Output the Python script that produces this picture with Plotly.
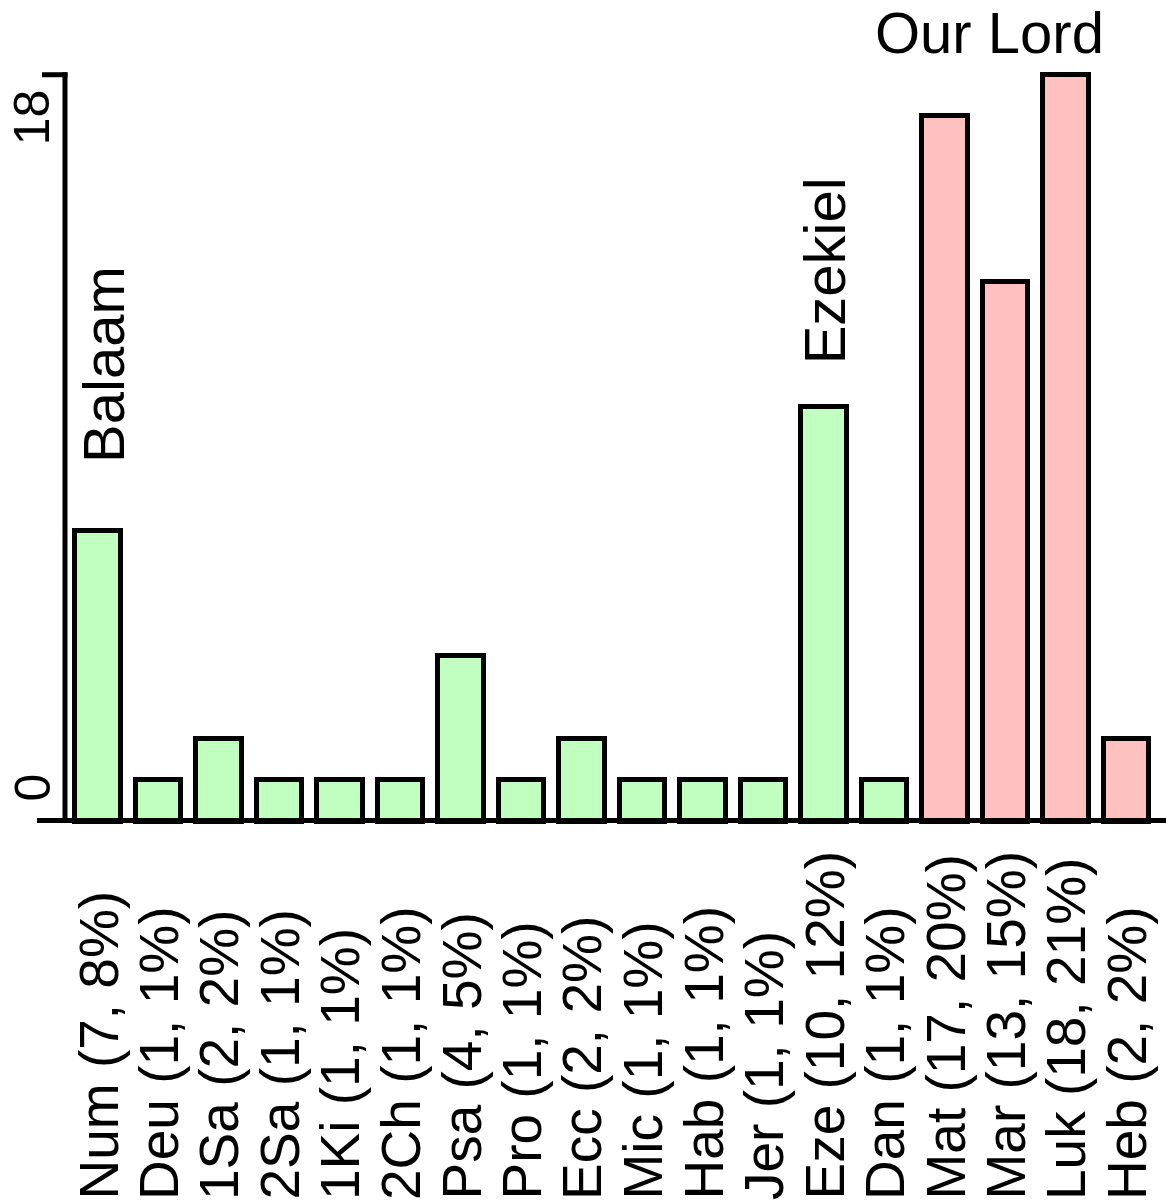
import plotly.graph_objects as go

# ---- data ----
books = ["Num", "Deu", "1Sa", "2Sa", "1Ki", "2Ch", "Psa", "Pro", "Ecc",
         "Mic", "Hab", "Jer", "Eze", "Dan", "Mat", "Mar", "Luk", "Heb"]
counts = [7, 1, 2, 1, 1, 1, 4, 1, 2, 1, 1, 1, 10, 1, 17, 13, 18, 2]
percents = [8, 1, 2, 1, 1, 1, 5, 1, 2, 1, 1, 1, 12, 1, 20, 15, 21, 2]
testament = ["OT"] * 14 + ["NT"] * 4
y_tick_vals = [0, 18]
y_tick_text = ["0", "18"]
callouts = [("Balaam", 0, 7), ("Ezekiel", 12, 10)]
top_label = "Our Lord"

labels = [f"{b} ({c}, {p}%)" for b, c, p in zip(books, counts, percents)]
colors = {"OT": "#C0FFC0", "NT": "#FFC0C0"}
xs = list(range(len(books)))

FONT = "Liberation Sans, Arial, sans-serif"
W, H = 1166, 1204
MB = 370
kx = 60.5      # px per category
ky = 41.515    # px per unit
x0px = 98      # pixel of first category
zero_px = 822  # pixel of value 0
xmin = -x0px / kx
xmax = xmin + W / kx
ymax = zero_px / ky
ymin = ymax - (H - MB) / ky

def px2x(p):
    return (p - x0px) / kx

fig = go.Figure()
fig.add_trace(go.Bar(
    x=xs, y=counts, width=0.744,
    marker=dict(color=[colors[t] for t in testament],
                line=dict(color="black", width=5)),
    hoverinfo="skip", showlegend=False,
))

shapes = [
    # y axis line
    dict(type="line", x0=px2x(65), x1=px2x(65), y0=0.08, y1=18 + 2.5 / ky,
         line=dict(color="black", width=5)),
    # top tick
    dict(type="line", x0=px2x(42), x1=px2x(67.5), y0=18, y1=18,
         line=dict(color="black", width=5)),
    # baseline
    dict(type="line", x0=px2x(37), x1=xmax + 1, y0=1.5 / ky, y1=1.5 / ky,
         line=dict(color="black", width=5)),
]

annotations = []
# category labels (rotated, starting at the bottom)
for x, lab in zip(xs, labels):
    annotations.append(dict(
        x=x, y=0, xref="x", yref="y", text=lab, showarrow=False,
        textangle=-90, xanchor="center", yanchor="bottom", yshift=-380,
        font=dict(family=FONT, size=55, color="black"),
    ))
# y tick labels
for v, t, sh in zip(y_tick_vals, y_tick_text, [34.5, -42.5]):
    annotations.append(dict(
        x=px2x(32), y=v, xref="x", yref="y", text=t, showarrow=False,
        textangle=-90, xanchor="center", yanchor="middle", yshift=sh,
        font=dict(family=FONT, size=50, color="black"),
    ))
# callouts
for (txt, i, v), xsh, ysh in zip(callouts, [6, 0], [66, 40]):
    annotations.append(dict(
        x=i, y=v, xref="x", yref="y", text=txt, showarrow=False,
        textangle=-90, xanchor="center", yanchor="bottom",
        xshift=xsh, yshift=ysh,
        font=dict(family=FONT, size=58, color="black"),
    ))
annotations.append(dict(
    x=15, y=18, xref="x", yref="y", text=top_label, showarrow=False,
    xanchor="center", yanchor="middle", xshift=-16.5, yshift=42,
    font=dict(family=FONT, size=58, color="black"),
))

fig.update_layout(
    width=W, height=H,
    margin=dict(l=0, r=0, t=0, b=MB, pad=0),
    paper_bgcolor="white", plot_bgcolor="white",
    xaxis=dict(range=[xmin, xmax], visible=False, fixedrange=True),
    yaxis=dict(range=[ymin, ymax], visible=False, fixedrange=True),
    shapes=shapes, annotations=annotations,
    bargap=0,
)

fig.write_html("out.html", config={"displayModeBar": False},
               post_script="document.body.style.margin='0';"
                           "document.body.style.overflow='hidden';")
